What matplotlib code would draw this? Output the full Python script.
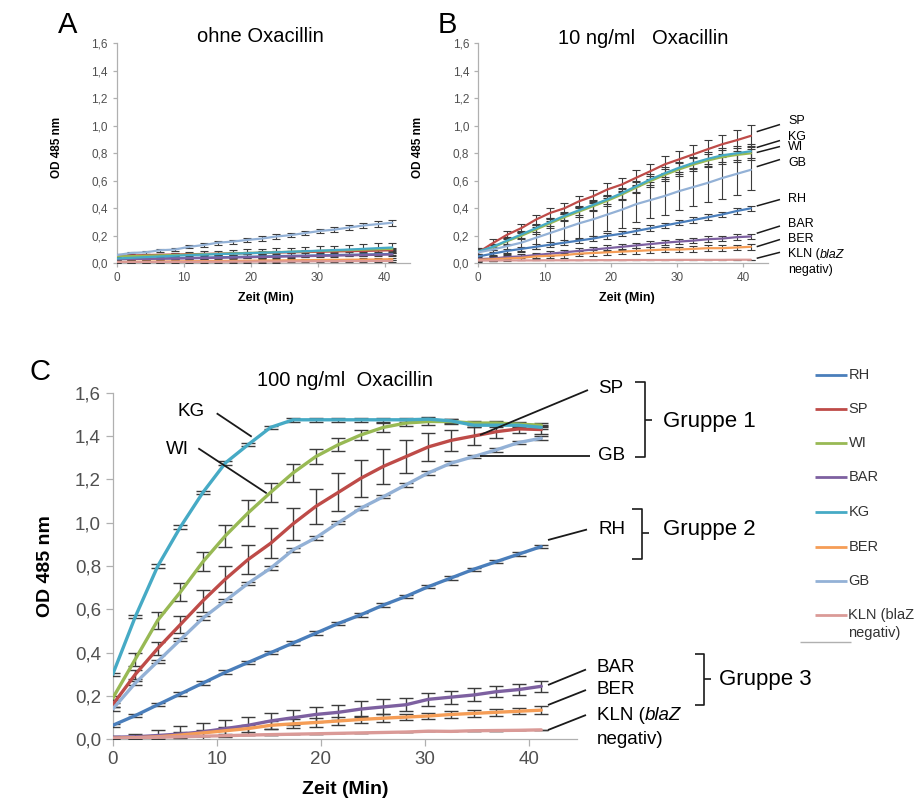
import matplotlib
matplotlib.use("Agg")
import matplotlib.pyplot as plt
from matplotlib.lines import Line2D

plt.rcParams['font.family'] = ['Liberation Sans', 'DejaVu Sans']

# ---------------- data ----------------
times = [0, 2.17, 4.33, 6.5, 8.67, 10.83, 13.0, 15.17, 17.33, 19.5,
         21.67, 23.83, 26.0, 28.17, 30.33, 32.5, 34.67, 36.83, 39.0, 41.17]

strains = ["RH", "SP", "WI", "BAR", "KG", "BER", "GB", "KLN"]
colors = {"RH": "#4A7EBB", "SP": "#BE4B48", "WI": "#98B954", "BAR": "#7D60A0",
          "KG": "#46AAC5", "BER": "#F59D56", "GB": "#93B1D6", "KLN": "#DA9A97"}

# Panel A: ohne Oxacillin
A_RH = [0.030, 0.032, 0.034, 0.036, 0.038, 0.040, 0.042, 0.044, 0.046, 0.048,
        0.050, 0.052, 0.054, 0.056, 0.058, 0.060, 0.062, 0.064, 0.066, 0.068]
A_SP = [0.055, 0.057, 0.060, 0.062, 0.064, 0.066, 0.068, 0.070, 0.072, 0.074,
        0.076, 0.078, 0.080, 0.082, 0.084, 0.086, 0.088, 0.090, 0.092, 0.095]
A_WI = [0.050, 0.052, 0.055, 0.058, 0.060, 0.063, 0.066, 0.069, 0.072, 0.075,
        0.078, 0.081, 0.084, 0.087, 0.090, 0.093, 0.096, 0.099, 0.102, 0.105]
A_BAR = [0.030, 0.031, 0.032, 0.033, 0.034, 0.036, 0.038, 0.040, 0.042, 0.044,
         0.046, 0.048, 0.050, 0.052, 0.054, 0.056, 0.058, 0.060, 0.062, 0.064]
A_KG = [0.035, 0.040, 0.045, 0.050, 0.055, 0.060, 0.063, 0.067, 0.070, 0.073,
        0.077, 0.080, 0.084, 0.088, 0.092, 0.096, 0.100, 0.105, 0.110, 0.115]
A_BER = [0.010, 0.011, 0.012, 0.013, 0.014, 0.015, 0.016, 0.017, 0.018, 0.019,
         0.020, 0.021, 0.022, 0.023, 0.024, 0.025, 0.026, 0.027, 0.028, 0.030]
A_GB = [0.060, 0.075, 0.080, 0.095, 0.100, 0.120, 0.133, 0.150, 0.158, 0.170,
        0.180, 0.195, 0.205, 0.220, 0.235, 0.245, 0.260, 0.275, 0.285, 0.295]
A_KLN = [0.008, 0.008, 0.009, 0.009, 0.010, 0.010, 0.011, 0.011, 0.012, 0.012,
         0.013, 0.013, 0.014, 0.014, 0.015, 0.015, 0.016, 0.016, 0.017, 0.017]
A_err_KG = [0.010, 0.015, 0.020, 0.020, 0.022, 0.025, 0.025, 0.025, 0.028, 0.028,
            0.030, 0.030, 0.030, 0.030, 0.032, 0.032, 0.033, 0.034, 0.035, 0.035]
A_err_GB = [0.010, 0.010, 0.010, 0.012, 0.012, 0.012, 0.012, 0.014, 0.014, 0.014,
            0.015, 0.015, 0.016, 0.016, 0.017, 0.018, 0.019, 0.020, 0.020, 0.022]
A_err_small = [0.008] * 20

# Panel B: 10 ng/ml Oxacillin
B_RH = [0.050, 0.070, 0.090, 0.105, 0.120, 0.135, 0.150, 0.165, 0.180, 0.200,
        0.215, 0.235, 0.255, 0.275, 0.295, 0.315, 0.335, 0.355, 0.380, 0.400]
B_SP = [0.080, 0.146, 0.207, 0.256, 0.317, 0.366, 0.400, 0.450, 0.488, 0.537,
        0.573, 0.622, 0.670, 0.720, 0.756, 0.793, 0.830, 0.866, 0.895, 0.927]
B_WI = [0.085, 0.115, 0.160, 0.200, 0.245, 0.290, 0.335, 0.375, 0.415, 0.455,
        0.500, 0.550, 0.598, 0.643, 0.683, 0.718, 0.748, 0.772, 0.788, 0.800]
B_BAR = [0.030, 0.035, 0.045, 0.050, 0.060, 0.070, 0.080, 0.090, 0.100, 0.110,
         0.120, 0.130, 0.140, 0.150, 0.158, 0.165, 0.175, 0.180, 0.190, 0.195]
B_KG = [0.085, 0.120, 0.165, 0.210, 0.255, 0.300, 0.345, 0.385, 0.425, 0.465,
        0.510, 0.560, 0.610, 0.655, 0.695, 0.730, 0.760, 0.785, 0.800, 0.815]
B_BER = [0.025, 0.030, 0.035, 0.040, 0.050, 0.055, 0.060, 0.070, 0.075, 0.080,
         0.085, 0.090, 0.095, 0.100, 0.100, 0.105, 0.110, 0.110, 0.115, 0.120]
B_GB = [0.080, 0.100, 0.125, 0.150, 0.185, 0.220, 0.255, 0.290, 0.320, 0.355,
        0.390, 0.430, 0.460, 0.490, 0.525, 0.555, 0.585, 0.620, 0.650, 0.680]
B_KLN = [0.020, 0.020, 0.021, 0.021, 0.021, 0.022, 0.022, 0.022, 0.023, 0.023,
         0.023, 0.024, 0.024, 0.024, 0.025, 0.025, 0.025, 0.025, 0.026, 0.026]
B_err_SP = [0.030, 0.030, 0.030, 0.030, 0.035, 0.035, 0.040, 0.040, 0.045, 0.050,
            0.050, 0.055, 0.055, 0.060, 0.060, 0.065, 0.070, 0.070, 0.075, 0.080]
B_err_KG = [0.020, 0.020, 0.025, 0.025, 0.030, 0.030, 0.030, 0.035, 0.035, 0.035,
            0.040, 0.040, 0.040, 0.045, 0.045, 0.045, 0.050, 0.050, 0.050, 0.050]
B_err_GB = [0.030, 0.040, 0.060, 0.070, 0.080, 0.090, 0.100, 0.110, 0.120, 0.120,
            0.130, 0.130, 0.130, 0.140, 0.140, 0.140, 0.140, 0.150, 0.150, 0.150]
B_err_low = [0.015, 0.015, 0.015, 0.015, 0.018, 0.018, 0.018, 0.020, 0.020, 0.020,
             0.020, 0.020, 0.020, 0.020, 0.020, 0.020, 0.020, 0.020, 0.020, 0.020]
B_err_zero = [0.0] * 20

# Panel C: 100 ng/ml Oxacillin
C_RH = [0.065, 0.110, 0.160, 0.210, 0.260, 0.310, 0.355, 0.400, 0.445, 0.490,
        0.535, 0.575, 0.620, 0.660, 0.705, 0.745, 0.785, 0.820, 0.855, 0.890]
C_SP = [0.160, 0.300, 0.420, 0.530, 0.640, 0.740, 0.830, 0.905, 0.995, 1.075,
        1.140, 1.205, 1.260, 1.305, 1.350, 1.380, 1.400, 1.420, 1.433, 1.430]
C_WI = [0.190, 0.370, 0.550, 0.680, 0.820, 0.940, 1.045, 1.140, 1.230, 1.305,
        1.360, 1.405, 1.440, 1.460, 1.467, 1.467, 1.460, 1.460, 1.455, 1.450]
C_BAR = [0.010, 0.012, 0.018, 0.025, 0.035, 0.050, 0.065, 0.085, 0.100, 0.115,
         0.125, 0.140, 0.150, 0.160, 0.185, 0.195, 0.205, 0.220, 0.230, 0.245]
C_KG = [0.300, 0.566, 0.800, 0.980, 1.140, 1.276, 1.360, 1.440, 1.475, 1.475,
        1.475, 1.475, 1.475, 1.475, 1.478, 1.470, 1.450, 1.450, 1.450, 1.440]
C_BER = [0.005, 0.008, 0.012, 0.020, 0.030, 0.040, 0.050, 0.065, 0.072, 0.078,
         0.085, 0.092, 0.098, 0.103, 0.108, 0.115, 0.120, 0.125, 0.130, 0.135]
C_GB = [0.140, 0.260, 0.360, 0.460, 0.560, 0.640, 0.720, 0.790, 0.875, 0.930,
        1.000, 1.067, 1.120, 1.175, 1.230, 1.275, 1.305, 1.336, 1.370, 1.390]
C_KLN = [0.005, 0.007, 0.010, 0.012, 0.015, 0.017, 0.020, 0.022, 0.024, 0.026,
         0.028, 0.030, 0.032, 0.034, 0.038, 0.037, 0.040, 0.041, 0.042, 0.044]
C_err_SP = [0.010, 0.020, 0.030, 0.040, 0.050, 0.060, 0.065, 0.070, 0.075, 0.080,
            0.088, 0.085, 0.080, 0.075, 0.065, 0.050, 0.040, 0.030, 0.020, 0.020]
C_err_WI = [0.010, 0.030, 0.040, 0.040, 0.045, 0.050, 0.058, 0.045, 0.040, 0.035,
            0.030, 0.025, 0.020, 0.015, 0.015, 0.010, 0.010, 0.010, 0.010, 0.010]
C_err_BAR = [0.005, 0.015, 0.025, 0.035, 0.040, 0.040, 0.040, 0.035, 0.035, 0.035,
             0.035, 0.035, 0.035, 0.030, 0.030, 0.030, 0.030, 0.025, 0.025, 0.025]
C_err_BER = [0.005, 0.008, 0.010, 0.012, 0.015, 0.015, 0.018, 0.018, 0.020, 0.020,
             0.020, 0.018, 0.018, 0.015, 0.015, 0.015, 0.015, 0.015, 0.015, 0.018]
C_err_small = [0.008] * 20
C_err_zero = [0.0] * 20

yticks = [0.0, 0.2, 0.4, 0.6, 0.8, 1.0, 1.2, 1.4, 1.6]
xticks = [0, 10, 20, 30, 40]

# ---------------- figure ----------------
W, H = 919, 802
fig = plt.figure(figsize=(W / 100, H / 100), dpi=100)


def fx(px):
    return px / W


def fy(py):
    return 1 - py / H


def add_axes_px(left, top, right, bottom):
    return fig.add_axes([fx(left), fy(bottom), fx(right) - fx(left), (bottom - top) / H])


def style_axes(ax, xmax, tick_fs, tick_len):
    ax.set_xlim(0, xmax)
    ax.set_ylim(0, 1.6)
    ax.set_xticks(xticks)
    ax.set_xticklabels([str(v) for v in xticks])
    ax.set_yticks(yticks)
    ax.set_yticklabels([f"{v:.1f}".replace('.', ',') for v in yticks])
    for s in ['top', 'right']:
        ax.spines[s].set_visible(False)
    for s in ['left', 'bottom']:
        ax.spines[s].set_color('#B0B0B0')
        ax.spines[s].set_linewidth(0.9)
    ax.tick_params(axis='both', which='major', labelsize=tick_fs, colors='#B0B0B0',
                   labelcolor='#505050', length=tick_len, width=0.9, direction='out')
    ax.patch.set_alpha(0)


def draw_series(ax, series, errs, lw, cap, elw):
    for name in ["RH", "SP", "WI", "BAR", "KG", "BER", "GB", "KLN"]:
        y = series[name]
        e = errs[name]
        ax.errorbar(times, y, yerr=e, color=colors[name], lw=lw, ecolor='#3C3C3C',
                    elinewidth=elw, capsize=cap, capthick=elw, zorder=3,
                    solid_capstyle='round')


# Panel A
axA = add_axes_px(116.7, 43.3, 410, 263.3)
style_axes(axA, 43.8, 8.5, 3)
draw_series(axA,
            {"RH": A_RH, "SP": A_SP, "WI": A_WI, "BAR": A_BAR, "KG": A_KG,
             "BER": A_BER, "GB": A_GB, "KLN": A_KLN},
            {"RH": A_err_small, "SP": A_err_small, "WI": A_err_small, "BAR": A_err_small,
             "KG": A_err_KG, "BER": A_err_small, "GB": A_err_GB, "KLN": A_err_small},
            1.6, 2.8, 0.8)

# Panel B
axB = add_axes_px(478.3, 43.3, 768.3, 263.3)
style_axes(axB, 43.8, 8.5, 3)
draw_series(axB,
            {"RH": B_RH, "SP": B_SP, "WI": B_WI, "BAR": B_BAR, "KG": B_KG,
             "BER": B_BER, "GB": B_GB, "KLN": B_KLN},
            {"RH": B_err_low, "SP": B_err_SP, "WI": B_err_KG, "BAR": B_err_low,
             "KG": B_err_KG, "BER": B_err_low, "GB": B_err_GB, "KLN": B_err_zero},
            1.6, 2.8, 0.8)

# Panel C
axC = add_axes_px(112.7, 392.7, 577, 739.4)
style_axes(axC, 44.6, 13.5, 5)
draw_series(axC,
            {"RH": C_RH, "SP": C_SP, "WI": C_WI, "BAR": C_BAR, "KG": C_KG,
             "BER": C_BER, "GB": C_GB, "KLN": C_KLN},
            {"RH": C_err_small, "SP": C_err_SP, "WI": C_err_WI, "BAR": C_err_BAR,
             "KG": C_err_small, "BER": C_err_BER, "GB": C_err_small, "KLN": C_err_zero},
            2.4, 5.0, 1.0)


# ---------------- texts ----------------
def ftext(px, py, s, size, ha='left', va='center', **kw):
    return fig.text(fx(px), fy(py), s, fontsize=size, ha=ha, va=va, **kw)


def fline(pts, color='#1a1a1a', lw=1.3):
    xs = [fx(p[0]) for p in pts]
    ys = [fy(p[1]) for p in pts]
    fig.add_artist(Line2D(xs, ys, transform=fig.transFigure, color=color, lw=lw,
                          solid_capstyle='butt'))


# Panel letters
ftext(68, 25, "A", 21, ha='center')
ftext(447, 25, "B", 21, ha='center')
ftext(40, 372, "C", 21, ha='center')

# Titles
ftext(260, 36, "ohne Oxacillin", 14.5, ha='center')
ftext(643, 39, "10 ng/ml   Oxacillin", 14.5, ha='center')
ftext(345, 380, "100 ng/ml  Oxacillin", 14.5, ha='center')

# Axis labels
ftext(57, 147, "OD 485 nm", 8.5, ha='center', rotation=90, fontweight='bold')
ftext(418, 147, "OD 485 nm", 8.5, ha='center', rotation=90, fontweight='bold')
ftext(45, 566, "OD 485 nm", 14, ha='center', rotation=90, fontweight='bold')
ftext(266, 298, "Zeit (Min)", 9, ha='center', fontweight='bold')
ftext(627, 298, "Zeit (Min)", 9, ha='center', fontweight='bold')
ftext(345, 789, "Zeit (Min)", 14, ha='center', fontweight='bold')

# Panel B labels
bx = 788
b_labels = [("SP", 121, (756.7, 131.7), (780, 124.5)),
            ("KG", 136.5, (756.7, 147.5), (780, 140.5)),
            ("WI", 147, (756.7, 152.5), (780, 146.5)),
            ("GB", 163.5, (756.7, 166.7), (780, 159.5)),
            ("RH", 199, (756.7, 206), (780, 199.5)),
            ("BAR", 224, (756.7, 233.3), (780, 226)),
            ("BER", 239, (756.7, 246.7), (780, 239.5)),
            ("KLN (", 254.5, (756.7, 258.3), (780, 252.3))]
for lab, yy, p0, p1 in b_labels:
    fline([p0, p1], lw=1.1)
    if lab != "KLN (":
        ftext(bx, yy, lab, 9)
tk = ftext(bx, 254.5, "KLN (", 9)
fig.canvas.draw()
r = fig.canvas.get_renderer()
bb = tk.get_window_extent(r)
ftext(bb.x1, 254.5, "blaZ", 9, style='italic')
ftext(bx, 270, "negativ)", 9)

# Panel C labels
ftext(191, 411, "KG", 13.5, ha='center')
fline([(216.7, 413.3), (251.7, 436.7)])
ftext(177, 449, "WI", 13.5, ha='center')
fline([(198.3, 448.3), (266.7, 493.3)])
fline([(480, 435), (588, 390)])
ftext(598, 388, "SP", 13.5)
fline([(480, 456), (590, 456)])
ftext(598, 456, "GB", 13.5)
fline([(548, 540), (587, 529.5)])
ftext(598, 530, "RH", 13.5)
fline([(548, 685), (586, 669.5)])
ftext(597, 667, "BAR", 13.5)
fline([(548, 705), (586, 690)])
ftext(597, 690, "BER", 13.5)
fline([(548, 730), (586, 715)])
tk2 = ftext(597, 715, "KLN (", 13.5)
fig.canvas.draw()
bb2 = tk2.get_window_extent(fig.canvas.get_renderer())
ftext(bb2.x1, 715, "blaZ", 13.5, style='italic')
ftext(597, 740, "negativ)", 13.5)


# Brackets
def bracket(xl, xv, xt, yt, yb, ym):
    fline([(xl, yt), (xv, yt), (xv, yb), (xl, yb)], lw=1.2)
    fline([(xv, ym), (xt, ym)], lw=1.2)


bracket(635, 645, 652, 382, 457.3, 420)
ftext(663, 422, "Gruppe 1", 16)
bracket(632, 642, 649, 509.3, 559.3, 533)
ftext(663, 530, "Gruppe 2", 16)
bracket(695, 704, 711, 654.3, 705, 679.3)
ftext(719, 680, "Gruppe 3", 16)

# Legend
leg_y = {"RH": 375, "SP": 409.3, "WI": 443.3, "BAR": 477.3, "KG": 511.7,
         "BER": 546.7, "GB": 581, "KLN": 615}
for name in strains:
    yy = leg_y[name]
    fline([(815, yy), (847, yy)], color=colors[name], lw=2.0)
    label = "KLN (blaZ" if name == "KLN" else name
    ftext(848.5, yy, label, 10.5, color='#333333')
ftext(848.5, 633, "negativ)", 10.5, color='#333333')
fline([(800, 641.7), (851, 641.7)], color='#B0B0B0', lw=1.0)

fig.savefig("out.png", dpi=100)
